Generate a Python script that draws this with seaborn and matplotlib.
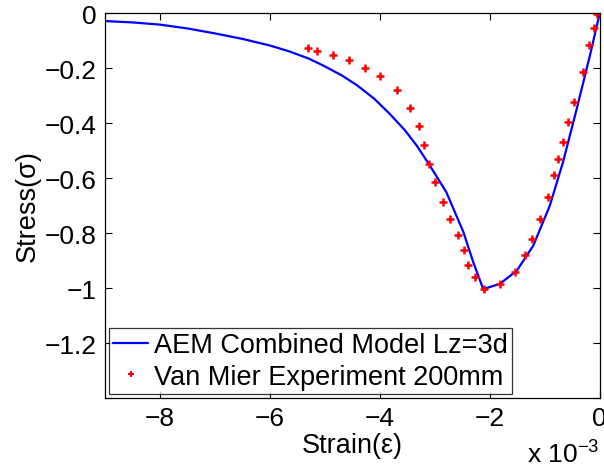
import matplotlib
matplotlib.use("Agg")
import matplotlib.pyplot as plt
import seaborn as sns
import pandas as pd
from matplotlib.ticker import FixedLocator, FixedFormatter

# Strain values in units of 1e-3
model_strain = [-9.0, -8.5, -8.0, -7.5, -7.0, -6.5, -6.0, -5.64, -5.3, -5.03, -4.7, -4.42,
                -4.1, -3.82, -3.55, -3.33, -3.09, -2.79, -2.48, -2.30, -2.12,
                -1.82, -1.51, -1.21, -0.91, -0.67, -0.42, -0.18, 0.0]
model_stress = [-0.029, -0.034, -0.042, -0.056, -0.074, -0.094, -0.118, -0.140, -0.165, -0.191,
                -0.226, -0.262, -0.312, -0.367, -0.425, -0.482, -0.555, -0.652, -0.797, -0.907,
                -1.004, -0.985, -0.937, -0.846, -0.701, -0.543, -0.349, -0.155, 0.0]

exp_strain = [-5.31, -5.14, -4.85, -4.56, -4.27, -3.99, -3.69, -3.45, -3.29, -3.19, -3.10,
              -3.00, -2.86, -2.72, -2.58, -2.47, -2.39, -2.27, -2.10, -1.81, -1.55, -1.36,
              -1.23, -1.09, -0.95, -0.84, -0.76, -0.67, -0.57, -0.47, -0.31, -0.19, -0.11, -0.05]
exp_stress = [-0.128, -0.137, -0.152, -0.171, -0.198, -0.230, -0.281, -0.345, -0.410, -0.480,
              -0.550, -0.615, -0.686, -0.749, -0.807, -0.861, -0.915, -0.961, -1.002, -0.984,
              -0.942, -0.881, -0.822, -0.750, -0.670, -0.589, -0.530, -0.469, -0.395, -0.324,
              -0.213, -0.115, -0.056, -0.004]

x_ticks = [-8, -6, -4, -2, 0]
x_ticklabels = ["\u22128", "\u22126", "\u22124", "\u22122", "0"]
y_ticks = [0, -0.2, -0.4, -0.6, -0.8, -1.0, -1.2, -1.4]
y_ticklabels = ["0", "\u22120.2", "\u22120.4", "\u22120.6", "\u22120.8", "\u22121", "\u22121.2", ""]

sns.set_theme(style="white")
plt.rcParams["font.family"] = ["Liberation Sans", "DejaVu Sans"]
plt.rcParams["mathtext.fontset"] = "custom"
plt.rcParams["mathtext.rm"] = "Liberation Sans"
plt.rcParams["text.color"] = "black"
plt.rcParams["axes.labelcolor"] = "black"
plt.rcParams["xtick.color"] = "black"
plt.rcParams["ytick.color"] = "black"

fig = plt.figure(figsize=(6.04, 4.77), dpi=100)
ax = fig.add_axes([0.174, 0.1635, 0.819, 0.807])

model_df = pd.DataFrame({"strain": model_strain, "stress": model_stress})
exp_df = pd.DataFrame({"strain": exp_strain, "stress": exp_stress})

sns.lineplot(data=model_df, x="strain", y="stress", sort=False, estimator=None,
             color="#0000ff", linewidth=1.6, ax=ax, label="AEM Combined Model Lz=3d")
sns.lineplot(data=exp_df, x="strain", y="stress", sort=False, estimator=None,
             color="#ff0000", linestyle="", marker="+", markersize=5.5, markeredgewidth=1.8,
             markeredgecolor="#ff0000", markerfacecolor="#ff0000",
             ax=ax, label="Van Mier Experiment 200mm")

ax.set_xlim(-9, 0)
ax.set_ylim(-1.4, 0)
ax.xaxis.set_major_locator(FixedLocator(x_ticks))
ax.xaxis.set_major_formatter(FixedFormatter(x_ticklabels))
ax.yaxis.set_major_locator(FixedLocator(y_ticks))
ax.yaxis.set_major_formatter(FixedFormatter(y_ticklabels))
ax.tick_params(direction="in", length=5, width=0.8, colors="black", labelsize=19,
               top=True, right=True, bottom=True, left=True, pad=6)
for s in ax.spines.values():
    s.set_color("black")
    s.set_linewidth(0.9)

ax.set_xlabel("Strain(\u03b5)", fontsize=19.5, color="black", labelpad=1)
ax.set_ylabel("Stress(\u03c3)", fontsize=19.5, color="black", labelpad=3)

leg = ax.legend(loc="lower left", fontsize=19.5, frameon=True, fancybox=False,
                edgecolor="black", borderpad=0.15, labelspacing=0.2, handlelength=1.3,
                handletextpad=0.2, borderaxespad=0.15, bbox_to_anchor=(0.0, 0.0))
leg.get_frame().set_linewidth(0.9)
for t in leg.get_texts():
    t.set_color("black")
handles = leg.legend_handles if hasattr(leg, "legend_handles") else leg.legendHandles
handles[1].set_markersize(4)
handles[1].set_markeredgewidth(1.5)

fig.text(0.993, 0.02, "x 10$^{\u22123}$", ha="right", va="bottom", fontsize=19, color="black")

fig.savefig("out.png", dpi=100)
